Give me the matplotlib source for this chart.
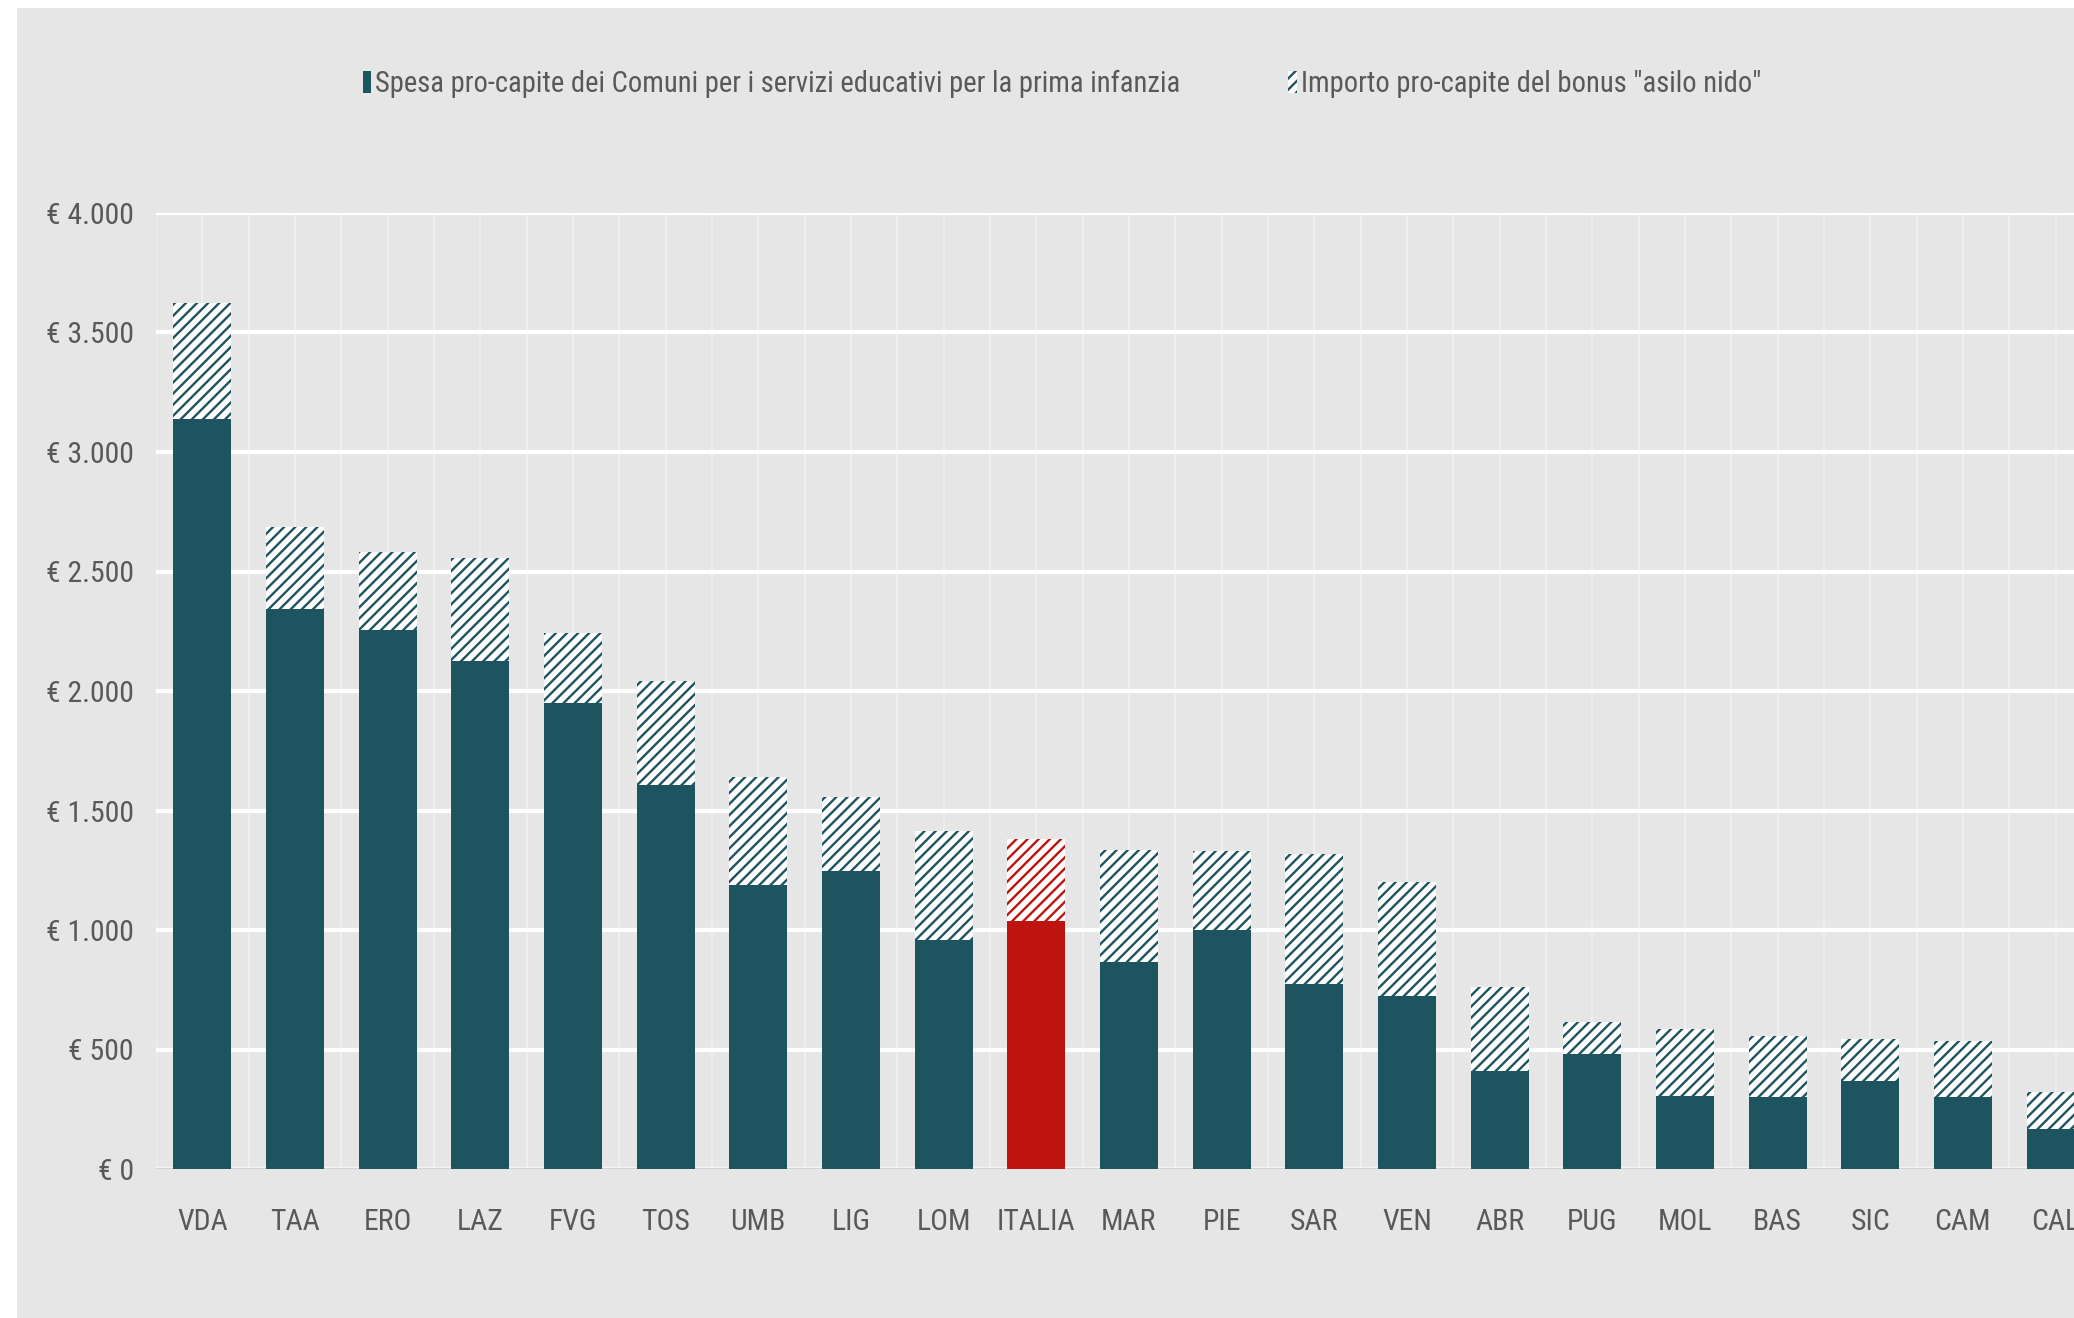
import os
import numpy as np
import matplotlib
matplotlib.use("Agg")
import matplotlib.pyplot as plt
from matplotlib import font_manager as fm
from matplotlib.patches import Rectangle, Patch
from matplotlib.ticker import FuncFormatter, MultipleLocator

# Regioni (ordinate per spesa totale)
regioni = ["VDA", "TAA", "ERO", "LAZ", "FVG", "TOS", "UMB", "LIG", "LOM", "ITALIA",
           "MAR", "PIE", "SAR", "VEN", "ABR", "PUG", "MOL", "BAS", "SIC", "CAM", "CAL"]

# Spesa pro-capite dei Comuni (euro)
spesa_comuni = [3140, 2345, 2255, 2125, 1950, 1605, 1190, 1245, 960, 1037,
                865, 1000, 772, 725, 409, 480, 304, 303, 367, 303, 168]

# Importo pro-capite del bonus "asilo nido" (euro)
bonus_nido = [485, 340, 325, 433, 293, 435, 452, 313, 456, 344,
              468, 331, 544, 475, 353, 133, 282, 252, 177, 231, 156]

etichette = ['Spesa pro-capite dei Comuni per i servizi educativi per la prima infanzia',
             'Importo pro-capite del bonus "asilo nido"']

TEAL = "#1e5360"
RED = "#bd1410"
GREY_TXT = "#595959"
BG = "#e6e6e6"

# cerca un font stretto (tipo Arial Narrow), altrimenti Liberation Sans
font_file = None
font_scale = 1.0
for chiave, scala in [("liberationsansnarrow-regular", 1.0), ("robotocondensed-regular", 0.93),
                      ("dejavusanscondensed.ttf", 0.85)]:
    for f in fm.fontManager.ttflist:
        if os.path.basename(f.fname).lower().startswith(chiave):
            font_file, font_scale = f.fname, scala
            break
    if font_file:
        break
if font_file is None:
    for f in fm.fontManager.ttflist:
        if os.path.basename(f.fname) == "LiberationSans-Regular.ttf":
            font_file, font_scale = f.fname, 0.82
            break

def fp(size):
    if font_file:
        return fm.FontProperties(fname=font_file, size=size * font_scale)
    return fm.FontProperties(family="DejaVu Sans", size=size * 0.78)

plt.rcParams["hatch.linewidth"] = 1.7

fig = plt.figure(figsize=(20.74, 13.18), dpi=100, facecolor="white")
# pannello grigio di sfondo
fig.add_artist(Rectangle((17 / 2074, 0), 1, 1 - 8 / 1318, transform=fig.transFigure,
                         facecolor=BG, edgecolor="none", zorder=-10))

ax = fig.add_axes([156 / 2074, (1318 - 1169) / 1318, (2074 - 156) / 2074, (1169 - 213) / 1318])
ax.set_facecolor("none")

x = np.arange(len(regioni))
colori = [RED if r == "ITALIA" else TEAL for r in regioni]

ax.bar(x, spesa_comuni, width=0.625, color=colori, linewidth=0, zorder=3)
for xi, s, b, c in zip(x, spesa_comuni, bonus_nido, colori):
    ax.bar(xi, b, bottom=s, width=0.625, facecolor="white", edgecolor=c,
           hatch="///", linewidth=0, zorder=3)

ax.yaxis.set_major_locator(MultipleLocator(500))
ax.yaxis.set_major_formatter(FuncFormatter(lambda v, p: "€ " + f"{int(v):,}".replace(",", ".")))
ax.set_xticks(x)
ax.set_xticklabels(regioni)
ax.set_xticks(np.arange(-0.5, len(regioni) + 0.5, 1.0), minor=True)

ax.set_ylim(0, 4000)
ax.set_xlim(-0.5, -0.5 + (2074 - 156) / 92.66)

ax.grid(axis="y", which="major", color="white", linewidth=3, zorder=1)
ax.grid(axis="x", which="both", color="#f0f0f0", linewidth=1.4, zorder=0)
ax.axhline(0, color="#d4d4d4", linewidth=2.5, zorder=2)

ax.tick_params(axis="both", which="both", length=0)
ax.tick_params(axis="y", labelcolor=GREY_TXT, pad=16)
ax.tick_params(axis="x", labelcolor=GREY_TXT, pad=28)
for lbl in ax.get_xticklabels() + ax.get_yticklabels():
    lbl.set_fontproperties(fp(23))
for sp in ax.spines.values():
    sp.set_visible(False)

handles = [Patch(facecolor=TEAL, edgecolor="none"),
           Patch(facecolor="white", edgecolor=TEAL, hatch="///", linewidth=0)]
leg = fig.legend(handles, etichette, loc="center", bbox_to_anchor=(1062 / 2074, 1 - 84 / 1318),
                 ncol=2, frameon=False, prop=fp(22.2), handlelength=0.3, handleheight=0.8,
                 handletextpad=0.15, columnspacing=3.75, labelcolor=GREY_TXT)

fig.savefig("out.png", dpi=100, facecolor="white")
